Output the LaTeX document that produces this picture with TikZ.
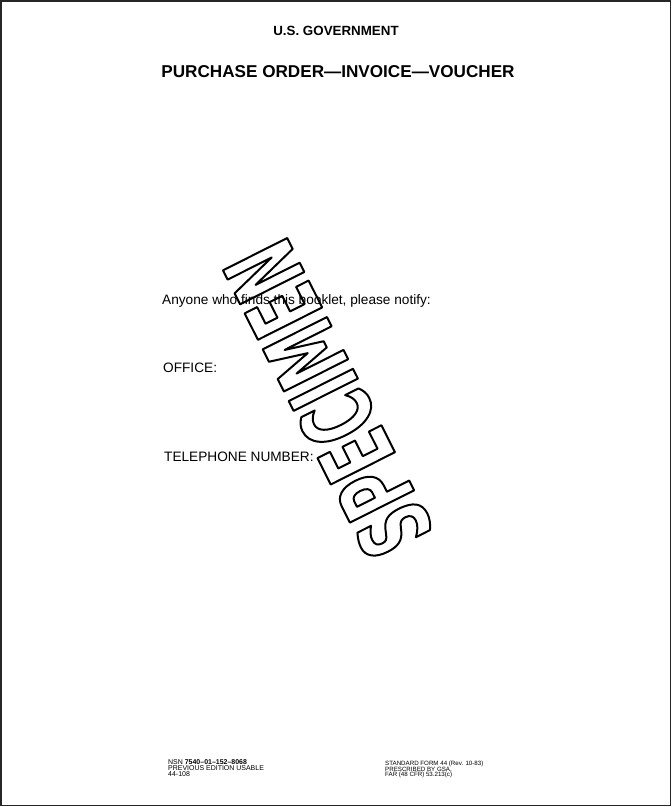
\documentclass[tikz,border=0pt]{standalone}
\usepackage{fontspec}
\setmainfont{Liberation Sans}
\newfontfamily\stampfont[FakeStretch=0.59]{DejaVu Sans}
\usepackage{tikz}

%% outlined letters for the stamp
\newcommand{\hollow}[1]{\special{pdf:literal direct 1 Tr 2 w 1 j}#1\special{pdf:literal direct 0 Tr}}

\begin{document}
\begin{tikzpicture}[x=1bp,y=-1bp,
    every node/.style={inner sep=0pt},
    headtext/.style={font=\fontsize{13.4}{16}\selectfont\bfseries, anchor=base},
    titletext/.style={font=\fontsize{17.2}{20}\selectfont\bfseries, anchor=base},
    bodytext/.style={font=\fontsize{13.7}{16}\selectfont, anchor=base west},
    footleft/.style={font=\fontsize{7}{8}\selectfont, anchor=base west},
    footright/.style={font=\fontsize{6.2}{7}\selectfont, anchor=base west},
    frame/.style={draw=black!85, line width=1.6bp}]

\useasboundingbox (0,0) rectangle (672,807);

%% page frame
\draw[frame] (0.8,0.8) rectangle (670.3,805.3);

%% heading
\node[headtext] (gov) at (336,36) {U.S. GOVERNMENT};
\node[titletext] (title) at (338,78) {PURCHASE ORDER\textemdash INVOICE\textemdash VOUCHER};

%% notify lines
\node[bodytext] (notify) at (162,304) {Anyone who finds this booklet, please notify:};
\node[bodytext] (office) at (163,372) {OFFICE:};
\node[bodytext] (phone)  at (164,461) {TELEPHONE NUMBER:};

%% stamp
\node[rotate=116.7, font=\stampfont\bfseries\fontsize{99}{99}\selectfont] (stamp) at (328,399) {\hollow{SPECIMEN}};

%% footer, left
\node[footleft] (nsn)  at (168,764)   {NSN \textbf{7540\textendash01\textendash152\textendash8068}};
\node[footleft] (prev) at (168,770.5) {PREVIOUS EDITION USABLE};
\node[footleft] (old)  at (168,776.5) {44-108};

%% footer, right
\node[footright] (sf)   at (385,765.5) {STANDARD FORM 44 (Rev. 10-83)};
\node[footright] (gsa)  at (385,771)   {PRESCRIBED BY GSA,};
\node[footright] (far)  at (385,776.7) {FAR (48 CFR) 53.213(c)};

\end{tikzpicture}
\end{document}
